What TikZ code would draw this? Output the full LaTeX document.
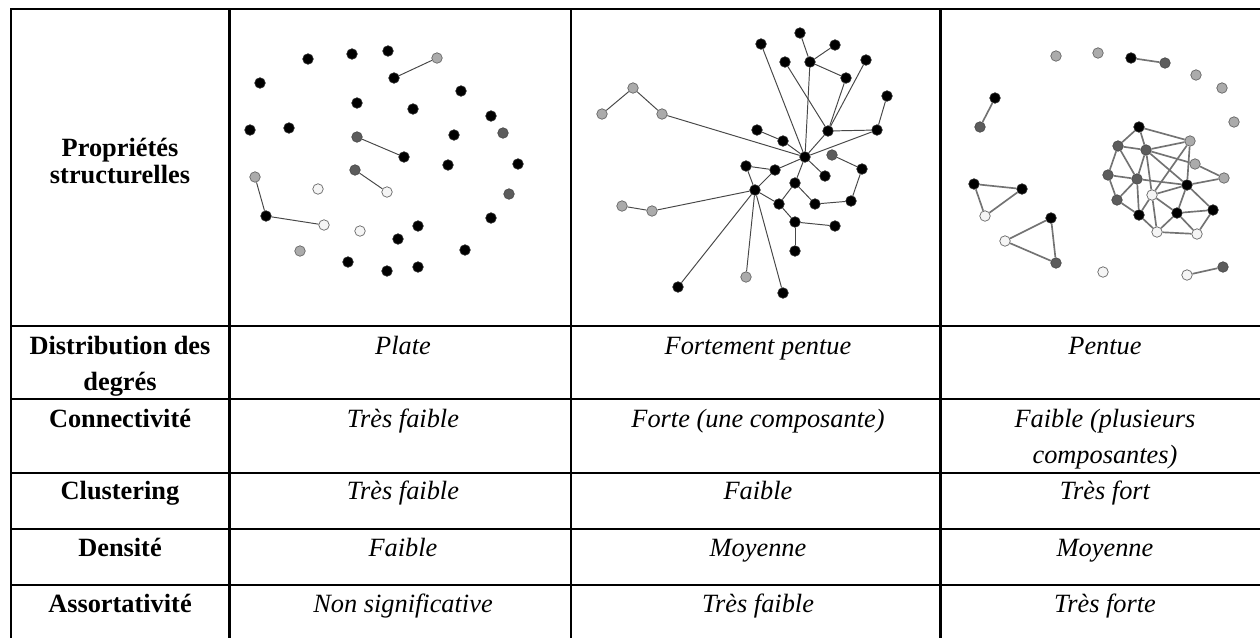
\documentclass[tikz,border=0pt]{standalone}
\usepackage{fontspec}
\setmainfont{Liberation Serif}

\tikzset{
  vtx/.style={circle, draw=black!60, line width=0.4pt, inner sep=0pt, minimum size=0.21cm},
  blk/.style={vtx, fill=black, draw=black!85},
  drk/.style={vtx, fill=black!64, draw=black!70},
  lgt/.style={vtx, fill=black!33},
  wht/.style={vtx, fill=black!4},
  lnk/.style={draw=black!72, line width=0.55pt},
  lnkc/.style={draw=black!55, line width=0.95pt},
  rule/.style={line width=1.25pt, line cap=rect},
  hd/.style={anchor=base, inner sep=0pt, align=center, font=\fontsize{15}{20.4}\selectfont\bfseries},
  val/.style={anchor=base, inner sep=0pt, align=center, font=\fontsize{15}{20.4}\selectfont\itshape},
}

\begin{document}
\begin{tikzpicture}[x=0.02cm,y=-0.02cm]
\useasboundingbox (0,0) rectangle (1260,637);
\clip (0,0) rectangle (1260,637);

% table rules
\foreach \y in {9,326,399,473,529,585}
  \draw[rule] (11,\y) -- (1272,\y);
\foreach \x in {11,229.5,571,940.5,1272}
  \draw[rule] (\x,9) -- (\x,650);

% first column (base = last line)
\node[hd, font=\fontsize{15}{15.3}\selectfont\bfseries] (props) at (120,183) {Propriétés\\structurelles};
\node[hd] (hdeg) at (120,390) {Distribution des\\degrés};
\node[hd] (hcon) at (120,427) {Connectivité};
\node[hd] (hclu) at (120,499) {Clustering};
\node[hd] (hden) at (120,556) {Densité};
\node[hd] (hass) at (120,612) {Assortativité};

% Plate
\begin{scope}
\foreach \n/\x/\y/\s in {pl1/308/59/blk, pl2/352/54/blk, pl3/388/51/blk, pl4/437/58/lgt,
    pl5/394/78/blk, pl6/260/83/blk, pl7/461/91/blk, pl8/357/103/blk, pl9/413/109/blk,
    pl10/491/116/blk, pl11/250/130/blk, pl12/289/128/blk, pl13/357/137/drk, pl14/404/157/blk,
    pl15/454/135/blk, pl16/503/133/drk, pl17/448/165/blk, pl18/518/164/blk, pl19/355/170/drk,
    pl20/387/192/wht, pl21/255/177/lgt, pl22/266/216/blk, pl23/324/225/wht, pl24/318/189/wht,
    pl25/509/194/drk, pl26/491/218/blk, pl27/418/226/blk, pl28/360/231/wht, pl29/398/239/blk,
    pl30/300/251/lgt, pl31/465/250/blk, pl32/348/262/blk, pl33/387/271/blk, pl34/418/267/blk}
  \node[\s] (\n) at (\x,\y) {};
\foreach \a/\b in {pl4/pl5, pl13/pl14, pl19/pl20, pl21/pl22, pl22/pl23}
  \draw[lnk] (\a) -- (\b);
\node[val] (vdeg1) at (403,354) {Plate};
\node[val] (vcon1) at (403,427) {Très faible};
\node[val] (vclu1) at (403,499) {Très faible};
\node[val] (vden1) at (403,556) {Faible};
\node[val] (vass1) at (403,612) {Non significative};
\end{scope}

% Fortement pentue
\begin{scope}
\foreach \n/\x/\y/\s in {fp1/761/44/blk, fp2/800/33/blk, fp3/835/45/blk, fp4/785/62/blk,
    fp5/810/62/blk, fp6/866/60/blk, fp7/846/78/blk, fp8/887/96/blk, fp9/633/88/lgt,
    fp10/602/114/lgt, fp11/662/114/lgt, fp12/757/130/blk, fp13/783/141/blk, fp14/828/131/blk,
    fp15/877/130/blk, fp16/805/157/blk, fp17/832/155/drk, fp18/746/166/blk, fp19/775/170/blk,
    fp20/825/176/blk, fp21/862/169/blk, fp22/795/183/blk, fp23/755/190/blk, fp24/622/206/lgt,
    fp25/652/211/lgt, fp26/779/204/blk, fp27/815/204/blk, fp28/851/201/blk, fp29/795/222/blk,
    fp30/835/226/blk, fp31/795/251/blk, fp32/746/277/lgt, fp33/678/287/blk, fp34/783/293/blk}
  \node[\s] (\n) at (\x,\y) {};
\foreach \a/\b in {fp2/fp5, fp5/fp3, fp5/fp7, fp5/fp16, fp1/fp16, fp4/fp14, fp7/fp14,
    fp6/fp14, fp8/fp15, fp14/fp15, fp14/fp16, fp15/fp16, fp9/fp10, fp9/fp11, fp11/fp16,
    fp12/fp13, fp13/fp16, fp17/fp21, fp21/fp28, fp28/fp27, fp27/fp22, fp22/fp16, fp22/fp26,
    fp26/fp23, fp26/fp29, fp29/fp30, fp29/fp31, fp16/fp20, fp18/fp19, fp19/fp16, fp23/fp19,
    fp18/fp23, fp23/fp25, fp24/fp25, fp23/fp33, fp23/fp32, fp23/fp34}
  \draw[lnk] (\a) -- (\b);
\node[val] (vdeg2) at (758,354) {Fortement pentue};
\node[val] (vcon2) at (758,427) {Forte (une composante)};
\node[val] (vclu2) at (758,499) {Faible};
\node[val] (vden2) at (758,556) {Moyenne};
\node[val] (vass2) at (758,612) {Très faible};
\end{scope}

% Pentue
\begin{scope}
\foreach \n/\x/\y/\s in {pe1/1056/56/lgt, pe2/1098/53/lgt, pe3/1131/58/blk, pe4/1165/63/drk,
    pe5/1196/75/lgt, pe6/1222/88/lgt, pe7/1234/122/lgt, pe8/995/98/blk, pe9/980/127/drk,
    pe10/1139/127/blk, pe11/1118/146/drk, pe12/1146/150/drk, pe13/1190/141/lgt,
    pe14/1195/164/lgt, pe15/1224/178/lgt, pe16/1108/175/drk, pe17/1137/179/drk,
    pe18/1187/185/blk, pe19/1152/195/wht, pe20/1117/200/drk, pe21/1139/215/blk,
    pe22/1177/213/blk, pe23/1213/210/blk, pe24/1157/232/wht, pe25/1197/234/wht,
    pe26/974/184/blk, pe27/1022/189/blk, pe28/985/216/wht, pe29/1051/218/blk,
    pe30/1005/241/wht, pe31/1056/263/drk, pe32/1103/272/wht, pe33/1187/275/wht, pe34/1223/267/drk}
  \node[\s] (\n) at (\x,\y) {};
\foreach \a/\b in {pe3/pe4, pe8/pe9, pe26/pe27, pe26/pe28, pe27/pe28, pe29/pe30, pe29/pe31,
    pe30/pe31, pe33/pe34, pe10/pe11, pe10/pe12, pe10/pe13, pe11/pe12, pe12/pe13, pe12/pe14,
    pe11/pe16, pe11/pe17, pe12/pe17, pe12/pe19, pe12/pe18, pe13/pe19, pe13/pe18, pe14/pe15,
    pe18/pe15, pe16/pe17, pe16/pe20, pe17/pe18, pe17/pe20, pe17/pe21, pe19/pe18, pe19/pe21,
    pe19/pe24, pe19/pe22, pe20/pe21, pe21/pe24, pe18/pe22, pe18/pe23, pe22/pe23, pe22/pe24,
    pe22/pe25, pe23/pe25, pe24/pe25}
  \draw[lnkc] (\a) -- (\b);
\node[val] (vdeg3) at (1105,354) {Pentue};
\node[val] (vcon3) at (1105,463) {Faible (plusieurs\\composantes)};
\node[val] (vclu3) at (1105,499) {Très fort};
\node[val] (vden3) at (1105,556) {Moyenne};
\node[val] (vass3) at (1105,612) {Très forte};
\end{scope}
\end{tikzpicture}
\end{document}
